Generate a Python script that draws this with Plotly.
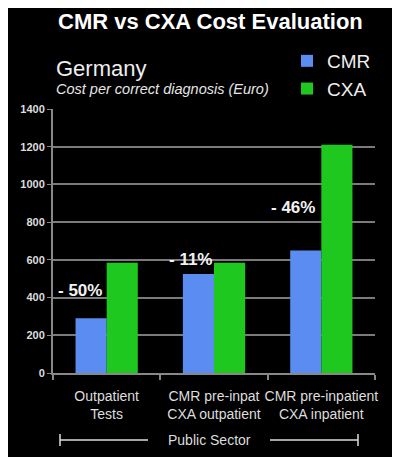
import plotly.graph_objects as go

# --- data ---
categories = ["Outpatient<br>Tests", "CMR pre-inpat<br>CXA outpatient", "CMR pre-inpatient<br>CXA inpatient"]
cmr_cost = [290, 525, 650]
cxa_cost = [585, 585, 1210]
diff_labels = ["- 50%", "- 11%", "- 46%"]

# label placement (category offset, y value)
label_dx = [-0.25, -0.22, -0.26]
label_y = [440, 600, 880]

BLUE = "#5a8cf2"
GREEN = "#1ec81e"
FONT = "Liberation Sans, Arial, sans-serif"

# page body has an 8px margin, so the figure is drawn 8px in from the top-left corner
OFF = 8
W, H = 400 - OFF, 457 - OFF
L, R, T, B = 53 - OFF, 25, 109 - OFF, 84
pw, ph = W - L - R, H - T - B


def px(x):
    # x given in window pixels
    return (x - OFF - L) / pw


def py(y):
    return (H - B - (y - OFF)) / ph


fig = go.Figure()
fig.add_trace(go.Bar(name="CMR", x=categories, y=cmr_cost, marker=dict(color=BLUE, line=dict(width=0))))
fig.add_trace(go.Bar(name="CXA", x=categories, y=cxa_cost, marker=dict(color=GREEN, line=dict(width=0))))

annotations = []
for i, txt in enumerate(diff_labels):
    annotations.append(dict(x=i + label_dx[i], y=label_y[i], xref="x", yref="y", text=f"<b>{txt}</b>",
                            showarrow=False, font=dict(size=17, color="#f2f2f2", family=FONT)))

annotations += [
    dict(x=px(210), y=py(22), xref="paper", yref="paper", text="<b>CMR vs CXA Cost Evaluation</b>",
         showarrow=False, xanchor="center", yanchor="middle", font=dict(size=22, color="white", family=FONT)),
    dict(x=px(54), y=py(68), xref="paper", yref="paper", text="Germany",
         showarrow=False, xanchor="left", yanchor="middle", font=dict(size=22, color="#eeeeee", family=FONT)),
    dict(x=px(54), y=py(89), xref="paper", yref="paper", text="<i>Cost per correct diagnosis (Euro)</i>",
         showarrow=False, xanchor="left", yanchor="middle", font=dict(size=14.5, color="#e6e6e6", family=FONT)),
    dict(x=px(209), y=py(440), xref="paper", yref="paper", text="Public Sector",
         showarrow=False, xanchor="center", yanchor="middle", font=dict(size=14, color="#dddddd", family=FONT)),
]

line_style = dict(color="#dddddd", width=1.5)
shapes = [
    dict(type="line", xref="paper", yref="paper", x0=px(60), x1=px(148), y0=py(440), y1=py(440), line=line_style),
    dict(type="line", xref="paper", yref="paper", x0=px(60), x1=px(60), y0=py(434), y1=py(446), line=line_style),
    dict(type="line", xref="paper", yref="paper", x0=px(270), x1=px(358), y0=py(440), y1=py(440), line=line_style),
    dict(type="line", xref="paper", yref="paper", x0=px(358), x1=px(358), y0=py(434), y1=py(446), line=line_style),
]

fig.update_layout(
    width=W, height=H,
    margin=dict(l=L, r=R, t=T, b=B, autoexpand=False),
    paper_bgcolor="black", plot_bgcolor="black",
    barmode="group", bargap=0.42, bargroupgap=0.0,
    font=dict(family=FONT, color="#dddddd"),
    legend=dict(x=px(287), y=py(42), xanchor="left", yanchor="top", bgcolor="rgba(0,0,0,0)",
                font=dict(size=19, color="#eeeeee", family=FONT), tracegroupgap=0, itemwidth=30),
    showlegend=True,
    annotations=annotations,
    shapes=shapes,
    xaxis=dict(showgrid=False, showline=True, linecolor="#888888", linewidth=2, tickangle=0,
               ticks="outside", tickson="boundaries", tickcolor="#888888", ticklen=5, tickwidth=1.5,
               ticklabelstandoff=9,
               tickfont=dict(size=14, color="#dddddd", family=FONT)),
    yaxis=dict(range=[0, 1400], dtick=200, showgrid=True, gridcolor="#7a7a7a", gridwidth=2,
               showline=True, linecolor="#888888", linewidth=2, zeroline=False,
               ticks="outside", tickcolor="#888888", ticklen=4,
               tickfont=dict(size=11, color="#dddddd", family=FONT, weight="bold"), tickformat="d"),
)

fig.write_html("out.html")
